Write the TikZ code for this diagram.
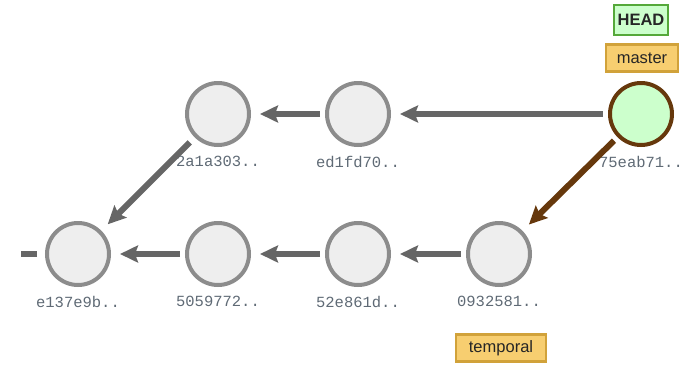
\documentclass[tikz,border=0pt]{standalone}
\usepackage{fontspec}
\setmainfont{Liberation Sans}
\newfontfamily\hashfont{Liberation Mono}
\usetikzlibrary{arrows.meta,positioning}
\definecolor{commitgray}{HTML}{8C8C8C}
\definecolor{commitfill}{HTML}{EEEEEE}
\definecolor{headfill}{HTML}{CCFFCC}
\definecolor{headline}{HTML}{55A83A}
\definecolor{brown}{HTML}{66380C}
\definecolor{branchfill}{HTML}{F7CE70}
\definecolor{branchline}{HTML}{D1A23A}
\definecolor{edgegray}{HTML}{666666}
\definecolor{hashgray}{HTML}{5F6A75}
\tikzset{
  commit/.style={circle,draw=commitgray,fill=commitfill,line width=4pt,minimum size=62pt,inner sep=0pt},
  hashtext/.style={font=\hashfont\fontsize{15.5}{18}\selectfont,text=hashgray,inner sep=0pt},
  branch/.style={draw=branchline,fill=branchfill,line width=2.5pt,minimum width=72pt,minimum height=27pt,inner sep=0pt,font=\fontsize{16.5}{20}\selectfont,text=black!85},
  gitedge/.style={draw=edgegray,line width=6pt,-{Stealth[length=18pt,width=17pt,inset=3pt]},shorten <=5pt,shorten >=9pt}
}
\begin{document}
\begin{tikzpicture}[x=1pt,y=1pt]
\useasboundingbox (0,0) rectangle (691,-365);

%commits, top row
\node[commit] (c2a1a) at (218,-114) {};
\node[commit] (ced1f) at (358,-114) {};
\node[commit,draw=brown,fill=headfill] (c75ea) at (641,-114) {};
%commits, bottom row
\node[commit] (ce137) at (78,-254) {};
\node[commit] (c5059) at (218,-254) {};
\node[commit] (c52e8) at (358,-254) {};
\node[commit] (c0932) at (499,-254) {};

%hashes
\node[hashtext,below=9pt of c2a1a] (t2a1a) {2a1a303..};
\node[hashtext,below=9pt of ced1f] (ted1f) {ed1fd70..};
\node[hashtext,below=9pt of c75ea] (t75ea) {75eab71..};
\node[hashtext,below=9pt of ce137] (te137) {e137e9b..};
\node[hashtext,below=9pt of c5059] (t5059) {5059772..};
\node[hashtext,below=9pt of c52e8] (t52e8) {52e861d..};
\node[hashtext,below=9pt of c0932] (t0932) {0932581..};

%branches
\node[branch] (master) at (642,-58) {master};
\node[branch,draw=headline,fill=headfill,minimum width=54pt,minimum height=30pt,font=\bfseries\fontsize{16.5}{20}\selectfont] (head) at (641,-20) {HEAD};
\node[branch,minimum width=90pt] (temporal) at (501,-348) {temporal};

%parent links
\draw[gitedge] (ced1f) -- (c2a1a);
\draw[gitedge] (c75ea) -- (ced1f);
\draw[gitedge,draw=brown] (c75ea) -- (c0932);
\draw[gitedge,shorten <=7pt] (c2a1a) -- (ce137);
\draw[gitedge] (c0932) -- (c52e8);
\draw[gitedge] (c52e8) -- (c5059);
\draw[gitedge] (c5059) -- (ce137);
\coordinate (tail) at (21,-254);
\draw[draw=edgegray,line width=6pt,shorten <=8pt] (ce137) -- (tail);

\end{tikzpicture}
\end{document}
